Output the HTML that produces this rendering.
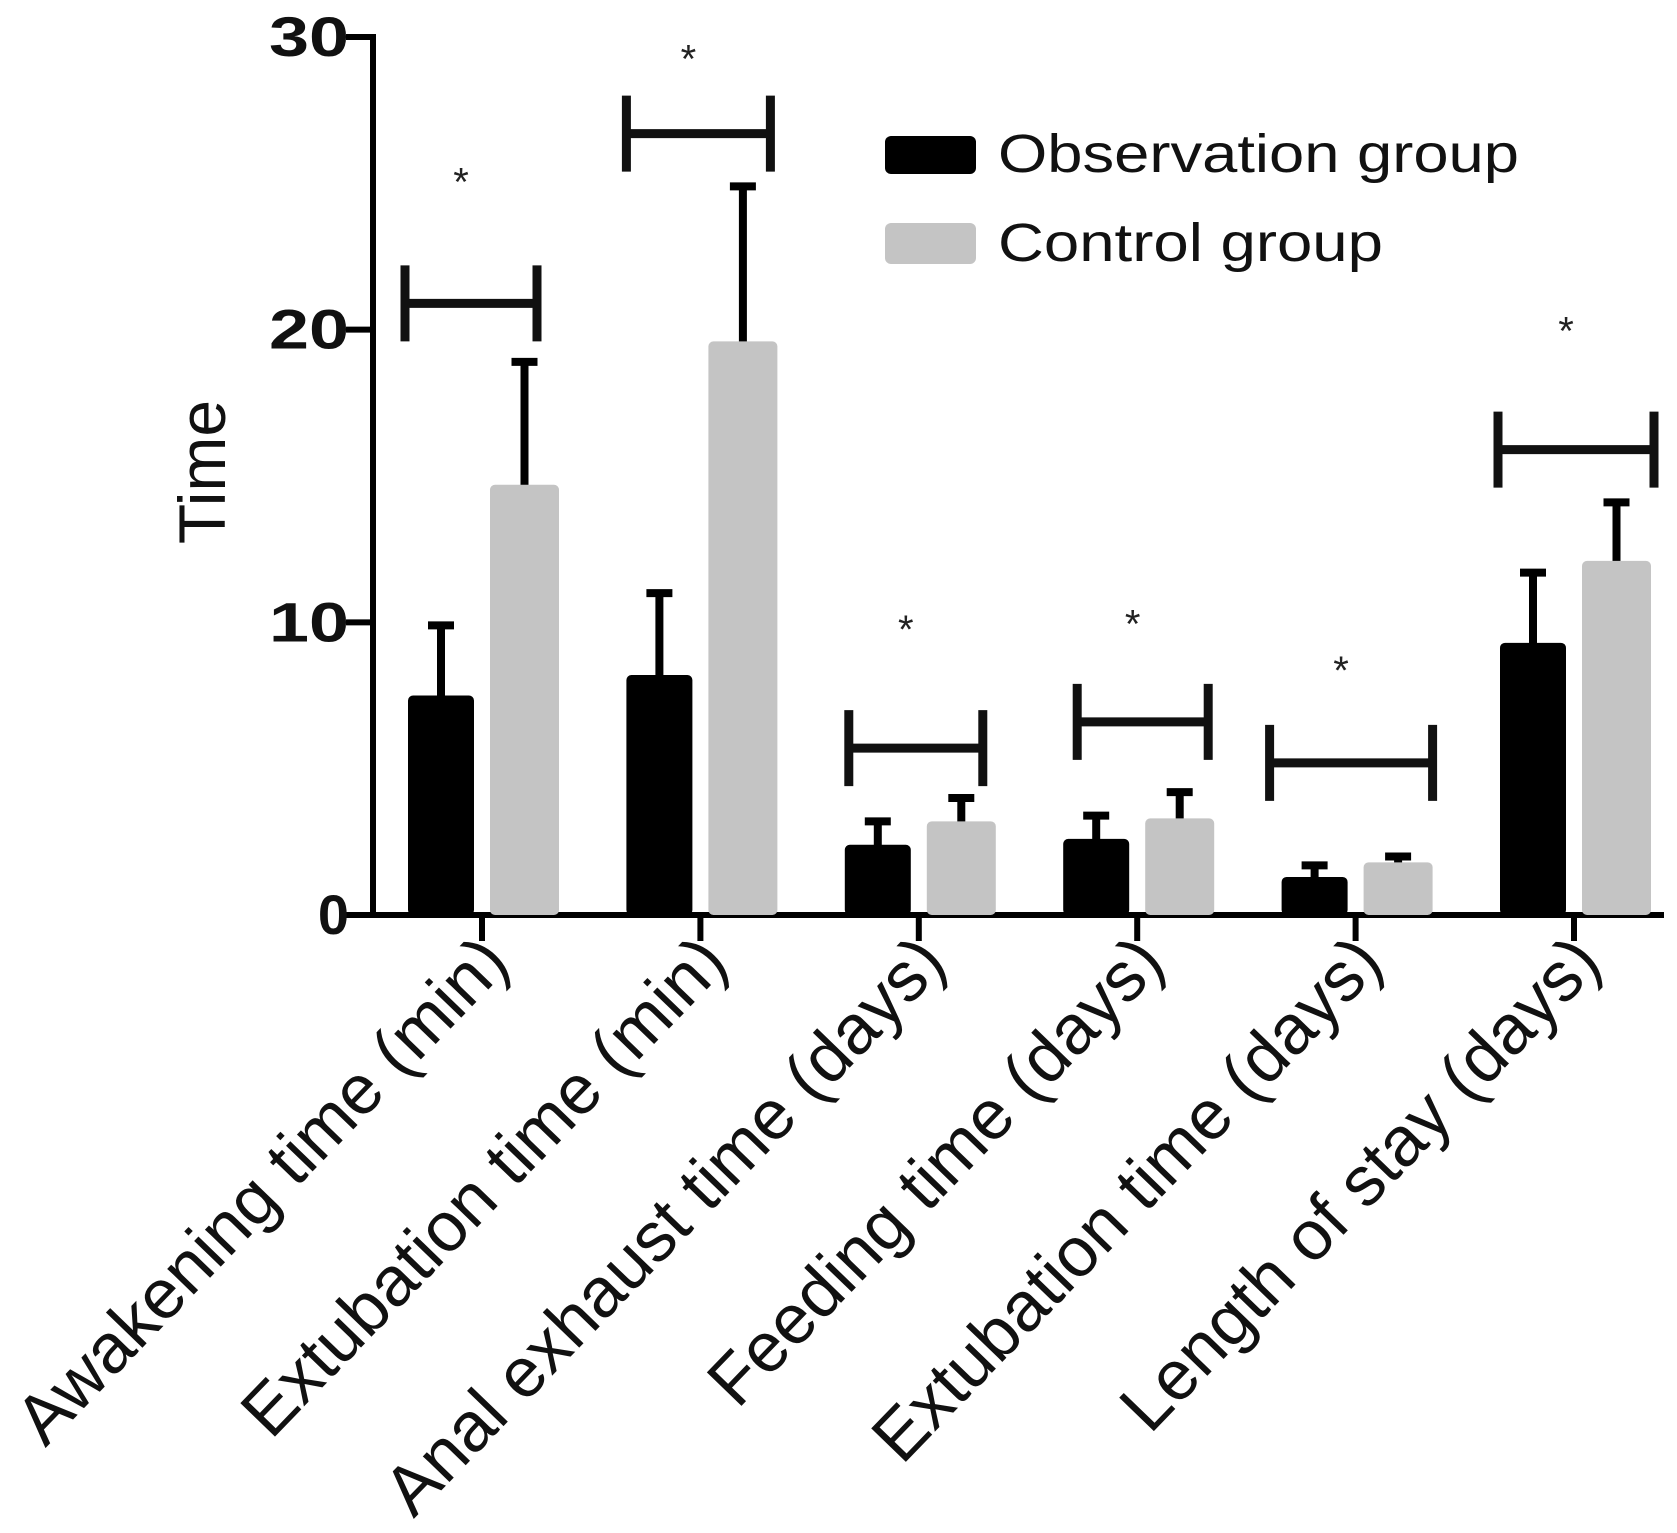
<!DOCTYPE html>
<html><head><meta charset="utf-8"><style>
html,body{margin:0;padding:0;background:#fff;}
svg{display:block;font-family:"Liberation Sans",Arial,sans-serif;}
</style></head><body>
<svg id="chart" width="1677" height="1533" viewBox="0 0 1677 1533">
<g id="axes"></g>
<g id="bars"></g>
<g id="sig"></g>
<text transform="translate(225,472) rotate(-90)" text-anchor="middle" font-size="66" fill="#111">Time</text>
<g>
<rect x="885" y="136" width="91" height="38" rx="6" fill="#000"/>
<text x="998" y="172" font-size="54" textLength="521" lengthAdjust="spacingAndGlyphs" fill="#111">Observation group</text>
<rect x="885" y="223" width="91" height="41" rx="6" fill="#c4c4c4"/>
<text x="998" y="261" font-size="54" textLength="385" lengthAdjust="spacingAndGlyphs" fill="#111">Control group</text>
</g>
</svg>
<script>
const categories=["Awakening time (min)","Extubation time (min)","Anal exhaust time (days)","Feeding time (days)","Extubation time (days)","Length of stay (days)"];
const obsMean=[7.5,8.2,2.4,2.6,1.3,9.3];
const obsErr=[2.5,2.9,0.9,0.9,0.5,2.5];
const ctrlMean=[14.7,19.6,3.2,3.3,1.8,12.1];
const ctrlErr=[4.3,5.4,0.9,1.0,0.3,2.1];
const bracketVal=[20.9,26.7,5.7,6.6,5.2,15.9];
const starVal=[25.0,29.2,9.7,9.9,8.3,19.9];
const yTicks=[0,10,20,30];

const NS="http://www.w3.org/2000/svg";
const X0=373,Y0=915,YTOP=37,XEND=1664;
function y(v){return Y0-(Y0-YTOP)*v/30;}
function cx(i){return 482+i*218.4;}
function mk(tag,attrs,parent){const e=document.createElementNS(NS,tag);for(const k in attrs)e.setAttribute(k,attrs[k]);parent.appendChild(e);return e;}
const axes=document.getElementById('axes'),bars=document.getElementById('bars'),sig=document.getElementById('sig');

const bOff=[[-74,-8],[8,77]];
categories.forEach((c,i)=>{
  [[obsMean,obsErr,'#000'],[ctrlMean,ctrlErr,'#c4c4c4']].forEach((s,k)=>{
    const x1=cx(i)+bOff[k][0],x2=cx(i)+bOff[k][1],m=(x1+x2)/2;
    const top=y(s[0][i]+s[1][i]);
    const ln=mk('line',{x1:m,x2:m,y1:y(s[0][i])+2,y2:top,stroke:'#000','stroke-width':8},bars);
    
    
    const cap=mk('line',{x1:m-13,x2:m+13,y1:top+3,y2:top+3,stroke:'#000','stroke-width':8},bars);
    
    
    const r=mk('rect',{x:x1,y:y(s[0][i]),width:x2-x1,height:Y0-y(s[0][i]),rx:5,fill:s[2]},bars);
    
    
  });
  const t=mk('text',{transform:`translate(${cx(i)+30},${Y0+50}) rotate(-46)`,'text-anchor':'end','font-size':70,fill:'#111'},axes);
  t.textContent=c;
  
  
  const tk=mk('line',{x1:cx(i),x2:cx(i),y1:Y0,y2:Y0+26,stroke:'#000','stroke-width':6},axes);
  
  
});
const brL=[-77,-74,-70,-60,-86,-76], brR=[55,70,64,71,77,80];
categories.forEach((c,i)=>{
  const by=y(bracketVal[i]),x1=cx(i)+brL[i],x2=cx(i)+brR[i];
  const g=mk('path',{d:`M${x1},${by-38}V${by+38}M${x1},${by}H${x2}M${x2},${by-38}V${by+38}`,stroke:'#111','stroke-width':9,fill:'none'},sig);
  
  
  const s=mk('text',{x:(x1+x2)/2-10,y:y(starVal[i])+12,'text-anchor':'middle','font-size':40,fill:'#222'},sig);
  s.textContent='*';
  
  
});
const ya=mk('line',{x1:X0,x2:X0,y1:YTOP-3,y2:Y0+3,stroke:'#000','stroke-width':6},axes);


const xa=mk('line',{x1:X0-3,x2:XEND,y1:Y0,y2:Y0,stroke:'#000','stroke-width':6},axes);


yTicks.forEach(v=>{
  const l=mk('line',{x1:X0-27,x2:X0,y1:y(v),y2:y(v),stroke:'#000','stroke-width':6},axes);
  
  
  const t=mk('text',{x:X0-24,y:y(v)+19,'text-anchor':'end','font-size':56,'font-weight':'bold',fill:'#111'},axes);
  t.textContent=v;
  if(String(v).length>1){t.setAttribute('textLength',80);t.setAttribute('lengthAdjust','spacingAndGlyphs');}
  
  
});
</script>
</body></html>
